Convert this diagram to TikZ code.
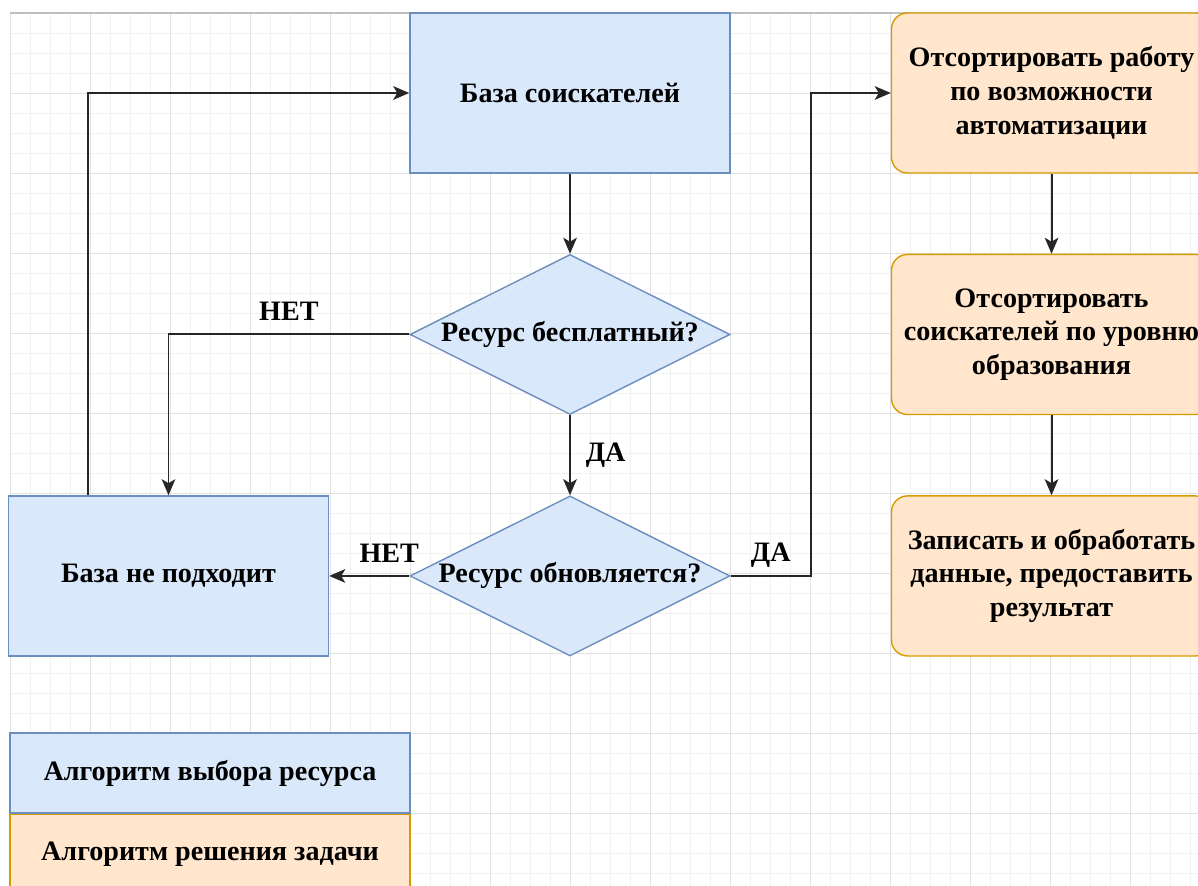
\documentclass[tikz,border=0pt]{standalone}
\usepackage{fontspec}
\setmainfont{Liberation Serif}
\usetikzlibrary{shapes.geometric,arrows.meta,positioning}

\definecolor{bluefill}{HTML}{DAE8FC}
\definecolor{blueline}{HTML}{6C8EBF}
\definecolor{orangefill}{HTML}{FFE6CC}
\definecolor{orangeline}{HTML}{D79B00}
\definecolor{minorgrid}{HTML}{F1F1F1}
\definecolor{majorgrid}{HTML}{E2E2E2}

\tikzset{
  txt/.style={font=\bfseries\fontsize{20}{24}\selectfont, align=center},
  blk/.style={txt, draw=blueline, fill=bluefill, line width=1pt, minimum width=8cm, minimum height=4cm},
  dec/.style={diamond, draw=blueline, fill=bluefill, line width=1pt, minimum width=8cm, minimum height=4cm, inner sep=0pt},
  task/.style={txt, draw=orangeline, fill=orangefill, line width=1pt, rounded corners=0.4cm, minimum width=8cm, minimum height=4cm},
  conn/.style={draw=black!85, line width=1.4pt, -{Stealth[length=0.4cm, width=0.34cm, inset=0.1cm]}},
  lbl/.style={txt, inner sep=2pt}
}

\begin{document}
\begin{tikzpicture}[x=0.025cm, y=-0.025cm, node distance=2cm]

    \useasboundingbox (0,0) rectangle (1198,886);
    \fill[white] (0,0) rectangle (1198,886);

    % grid
    \foreach \gx in {10,30,...,1198} \draw[minorgrid, line width=0.6pt] (\gx,13) -- (\gx,886);
    \foreach \gy in {13,33,...,886} \draw[minorgrid, line width=0.6pt] (10,\gy) -- (1198,\gy);
    \foreach \gx in {10,90,...,1198} \draw[majorgrid, line width=0.6pt] (\gx,13) -- (\gx,886);
    \foreach \gy in {13,93,...,886} \draw[majorgrid, line width=0.6pt] (10,\gy) -- (1198,\gy);
    \draw[black!25, line width=0.8pt] (10,13) -- (1198,13);

    % resource choice
    \node[blk]                       (baza)  at (570,93) {База соискателей};
    \node[dec, below=of baza]        (free)  {};
    \node[dec, below=of free]        (upd)   {};
    \node[blk, left=of upd]          (nofit) {База не подходит};
    \node[txt] (freetxt) at (free) {Ресурс бесплатный?};
    \node[txt] (updtxt)  at (upd)  {Ресурс обновляется?};

    % task solution
    \node[task, right=4cm of baza]   (sort1) {Отсортировать работу\\по возможности\\автоматизации};
    \node[task, below=of sort1]      (sort2) {Отсортировать\\соискателей по уровню\\образования};
    \node[task, below=of sort2]      (sort3) {Записать и обработать\\данные, предоставить\\результат};

    % legend
    \node[blk, minimum width=10cm, minimum height=2cm] (leg1) at (210,773) {Алгоритм выбора ресурса};
    \node[task, rounded corners=0pt, minimum width=10cm, minimum height=2cm, below=0pt of leg1] (leg2) {Алгоритм решения задачи};

    \draw[conn] ([xshift=-2cm]nofit.north) |- (baza.west);
    \draw[conn] (baza) -- (free);
    \draw[conn] (free.west) -| node[lbl, pos=0.25, above, yshift=0.25cm] {НЕТ} (nofit.north);
    \draw[conn] (free) -- node[lbl, right, xshift=0.3cm] {ДА} (upd);
    \draw[conn] (upd.west) -- node[lbl, pos=0.25, above, yshift=0.25cm] {НЕТ} (nofit.east);
    \draw[conn] (upd.east) -- node[lbl, above, yshift=0.12cm] {ДА} ++(80,0) |- (sort1.west);
    \draw[conn] (sort1) -- (sort2);
    \draw[conn] (sort2) -- (sort3);

\end{tikzpicture}
\end{document}
